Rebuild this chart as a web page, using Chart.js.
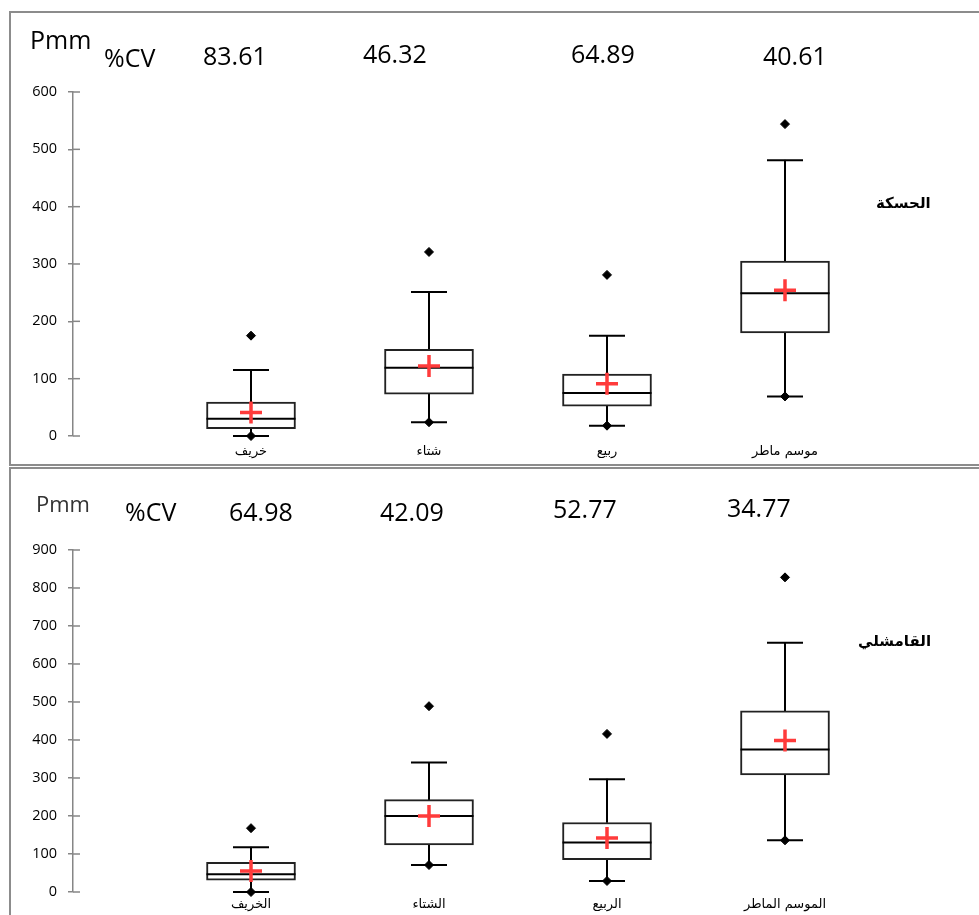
<!DOCTYPE html>
<html>
<head>
<meta charset="utf-8">
<script src="https://cdn.jsdelivr.net/npm/chart.js@4"></script>
<style>
  body { margin: 0; background: #fff; width: 979px; height: 915px; overflow: hidden; position: relative; }
  .panel { position: absolute; border: 2px solid #8c8c8c; box-sizing: border-box; pointer-events: none; }
  canvas { position: absolute; left: 0; }
  .txt { position: absolute; font-family: "Open Sans", sans-serif; font-size: 25px; line-height: 25px; color: #000; white-space: nowrap; }
  .station { position: absolute; font-family: "DejaVu Sans", sans-serif; font-weight: bold; font-size: 15px; direction: rtl; white-space: nowrap; }
</style>
</head>
<body>
<div class="panel" style="left:9px; top:11px; width:980px; height:455px;"></div>
<div class="panel" style="left:9px; top:467px; width:980px; height:460px;"></div>
<canvas id="chart_top" width="979" height="465" style="top:0;"></canvas>
<canvas id="chart_bottom" width="979" height="447" style="top:468px;"></canvas>
<div id="labels"></div>
<script>
// الحسكة
const hasaka_cats = ['خريف', 'شتاء', 'ربيع', 'موسم ماطر'];
const hasaka_min = [0, 24, 18, 69];
const hasaka_q1 = [13, 73, 52, 180];
const hasaka_median = [30, 119, 75, 249];
const hasaka_q3 = [59, 151, 108, 305];
const hasaka_max = [115, 251, 175, 481];
const hasaka_mean = [41, 122, 91, 254];
const hasaka_outlier = [175, 321, 281, 544];
const hasaka_cv = ['83.61', '46.32', '64.89', '40.61'];

// القامشلي
const qam_cats = ['الخريف', 'الشتاء', 'الربيع', 'الموسم الماطر'];
const qam_min = [0, 71, 29, 136];
const qam_q1 = [31, 124, 85, 308];
const qam_median = [47, 200, 130, 375];
const qam_q3 = [78, 243, 183, 477];
const qam_max = [118, 341, 297, 656];
const qam_mean = [55, 200, 142, 399];
const qam_outlier = [168, 489, 416, 828];
const qam_cv = ['64.98', '42.09', '52.77', '34.77'];

// pad with an empty slot on each side so boxes sit at 1..4
const pad = arr => [null, ...arr, null];
const pair = (a, b) => pad(a.map((v, i) => [v, b[i]]));

// tick marks crossing the axis on the inside too
const inner_ticks = {
    id: 'inner_ticks',
    afterDraw(chart) {
        const y = chart.scales.y;
        const ctx = chart.ctx;
        ctx.save();
        ctx.strokeStyle = '#868686';
        ctx.lineWidth = 1.5;
        y.ticks.forEach(t => {
            const py = y.getPixelForValue(t.value);
            ctx.beginPath();
            ctx.moveTo(y.right, py);
            ctx.lineTo(y.right + 7, py);
            ctx.stroke();
        });
        ctx.restore();
    }
};

function point_set(data, style, radius, width, color, order) {
    return {
        type: 'line', data: pad(data), showLine: false, clip: false, order: order,
        pointStyle: style, pointRadius: radius, pointHoverRadius: radius,
        borderWidth: width, pointBorderWidth: width,
        borderColor: color, pointBorderColor: color, backgroundColor: color, pointBackgroundColor: color
    };
}

function make_chart(id, cats, mn, q1, med, q3, mx, mean, outl, y_max, pad_top, x_height, x_pad) {
    new Chart(document.getElementById(id), {
        type: 'bar',
        data: {
            labels: ['', ...cats, ''],
            datasets: [
                { data: pair(q3, mx), backgroundColor: '#000', barThickness: 1.4, grouped: false, order: 10, clip: false },
                { data: pair(mn, q1), backgroundColor: '#000', barThickness: 1.4, grouped: false, order: 10, clip: false },
                { data: pair(q1, q3), backgroundColor: '#fff', borderColor: '#222', borderWidth: 2,
                  borderSkipped: false, barThickness: 89, grouped: false, order: 8, clip: false },
                point_set(med, 'line', 44.5, 2, '#000', 5),
                point_set(mx, 'line', 18, 2, '#000', 5),
                point_set(mn, 'line', 18, 2, '#000', 5),
                point_set(mn, 'rectRot', 4.5, 1, '#000', 4),
                point_set(outl, 'rectRot', 4.5, 1, '#000', 4),
                point_set(mean, 'cross', 11, 3.5, '#ff3b3b', 1)
            ]
        },
        options: {
            responsive: false,
            animation: false,
            layout: { autoPadding: false, padding: { top: pad_top, right: 16, left: 0, bottom: 0 } },
            plugins: { legend: { display: false }, tooltip: { enabled: false } },
            scales: {
                x: {
                    offset: false,
                    grid: { display: false, drawTicks: false },
                    border: { display: false },
                    ticks: { padding: x_pad, color: '#000', font: { family: 'DejaVu Sans', size: 13 }, maxRotation: 0, autoSkip: false },
                    afterFit: s => { s.height = x_height; }
                },
                y: {
                    min: 0, max: y_max,
                    ticks: { stepSize: 100, padding: 11, color: '#000', font: { family: 'Open Sans', size: 14.5 } },
                    grid: { drawOnChartArea: false, tickLength: 5, color: '#868686', lineWidth: 1.5 },
                    border: { color: '#868686', width: 1.5 },
                    afterFit: s => { s.width = 73; }
                }
            }
        },
        plugins: [inner_ticks]
    });
}

make_chart('chart_top', hasaka_cats, hasaka_min, hasaka_q1, hasaka_median, hasaka_q3,
    hasaka_max, hasaka_mean, hasaka_outlier, 600, 92, 29, 8);
make_chart('chart_bottom', qam_cats, qam_min, qam_q1, qam_median, qam_q3,
    qam_max, qam_mean, qam_outlier, 900, 82, 23, 5);

// header texts: Pmm, %CV and the CV values, plus station names
const labels_div = document.getElementById('labels');
function add_text(cls, text, left, top, extra) {
    const d = document.createElement('div');
    d.className = cls;
    d.textContent = text;
    d.style.left = left + 'px';
    d.style.top = top + 'px';
    if (extra) Object.assign(d.style, extra);
    labels_div.appendChild(d);
}
add_text('txt', 'Pmm', 30, 27);
add_text('txt', '%CV', 104, 45);
const top_cv_pos = [[203, 43], [363, 41], [571, 41], [763, 43]];
hasaka_cv.forEach((v, i) => add_text('txt', v, top_cv_pos[i][0], top_cv_pos[i][1]));
add_text('txt', 'Pmm', 36, 491, { color: '#333', fontSize: '22px' });
add_text('txt', '%CV', 125, 499);
const bottom_cv_pos = [[229, 499], [380, 499], [553, 496], [727, 495]];
qam_cv.forEach((v, i) => add_text('txt', v, bottom_cv_pos[i][0], bottom_cv_pos[i][1]));
add_text('station', 'الحسكة', 876, 194);
add_text('station', 'القامشلي', 858, 632);
</script>
</body>
</html>
